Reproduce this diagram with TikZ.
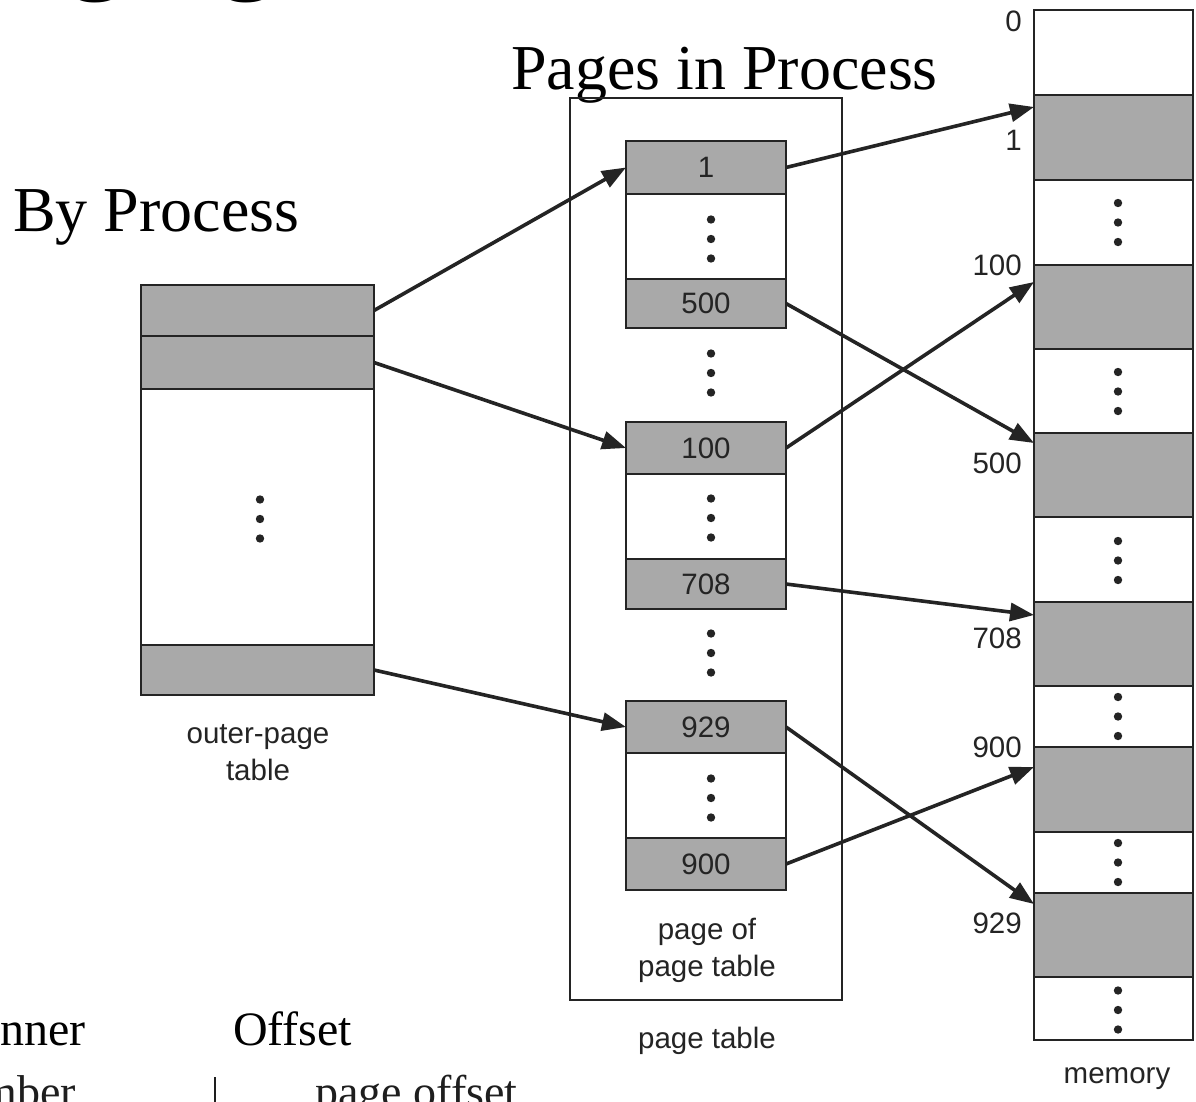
\documentclass[tikz,border=0pt]{standalone}
\usepackage{fontspec}
\setmainfont{Liberation Serif}
\newfontfamily\labelfont{Liberation Sans}
\usetikzlibrary{arrows.meta,calc}

\definecolor{ink}{HTML}{242424}
\definecolor{shade}{HTML}{A9A9A9}
\definecolor{prose}{HTML}{1E1E1E}

\tikzset{
  cell/.style={draw=ink, line width=1.7pt, inner sep=0pt, outer sep=0pt,
               font=\labelfont\fontsize{29.5}{34}\selectfont, text=ink},
  grey cell/.style={cell, fill=shade},
  blank cell/.style={cell, fill=white},
  frame/.style={draw=ink, line width=1.7pt, inner sep=0pt, outer sep=0pt},
  link/.style={draw=ink, line width=3.6pt, -{Triangle[length=24pt,width=18pt]}},
  tag/.style={inner sep=0pt, font=\labelfont\fontsize{29.5}{37}\selectfont, text=ink, align=center},
  addr/.style={tag, anchor=east},
  heading/.style={inner sep=0pt, anchor=base, font=\fontsize{64}{70}\selectfont, text=black},
  bodytext/.style={inner sep=0pt, anchor=base, font=\fontsize{46}{50}\selectfont, text=prose},
}

% three vertical dots centred on a point
\newcommand\vdotsat[1]{%
  \foreach \dy in {-19.5,0,19.5}
    \fill[ink] ($(#1)+(0,\dy)$) circle (4.2pt);}

\begin{document}
\begin{tikzpicture}[x=1pt,y=-1pt]
\useasboundingbox (0,0) rectangle (1196,1102);
\fill[white] (0,0) rectangle (1196,1102);
\clip (0,0) rectangle (1196,1102);

% ---- headings ----
\node[heading, anchor=base west, font=\fontsize{118}{120}\selectfont] (title) at (-51,-22) {Paging};
\node[heading] (pip) at (724.5,90) {Pages in Process};
\node[heading, anchor=base west] (bp) at (13,231) {By Process};
\node[heading, anchor=base east, font=\fontsize{48}{52}\selectfont] (inner) at (86,1045) {inner};
\node[heading, anchor=base west, font=\fontsize{48}{52}\selectfont] (offset) at (233,1045) {Offset};
\node[bodytext, anchor=base east] (number) at (76,1107) {number};
\node[bodytext, anchor=base west] (pageoffset) at (315,1107) {page offset};
\coordinate (rulebot) at (215,1110);
\draw[prose, line width=1.2pt] (215,1077) -- (rulebot);

% ---- outer-page table ----
\node[grey cell,  minimum width=233pt, minimum height=51pt]  (op1) at (257.5,310.5) {};
\node[grey cell,  minimum width=233pt, minimum height=53pt]  (op2) at (257.5,362.5) {};
\node[blank cell, minimum width=233pt, minimum height=256pt] (opd) at (257.5,517) {};
\node[grey cell,  minimum width=233pt, minimum height=50pt]  (op4) at (257.5,670) {};
\vdotsat{260,519}
\node[tag] (optag) at (258,753) {outer-page\\table};

% ---- page of page table ----
\node[frame, minimum width=272pt, minimum height=902pt] (ptab) at (706,549) {};
\node[grey cell,  minimum width=160pt, minimum height=53pt] (pt1)   at (706,167.5) {1};
\node[blank cell, minimum width=160pt, minimum height=85pt] (ptd1)  at (706,236.5) {};
\node[grey cell,  minimum width=160pt, minimum height=49pt] (pt500) at (706,303.5) {500};
\node[grey cell,  minimum width=160pt, minimum height=52pt] (pt100) at (706,448) {100};
\node[blank cell, minimum width=160pt, minimum height=85pt] (ptd2)  at (706,516.5) {};
\node[grey cell,  minimum width=160pt, minimum height=50pt] (pt708) at (706,584) {708};
\node[grey cell,  minimum width=160pt, minimum height=52pt] (pt929) at (706,727) {929};
\node[blank cell, minimum width=160pt, minimum height=85pt] (ptd3)  at (706,795.5) {};
\node[grey cell,  minimum width=160pt, minimum height=52pt] (pt900) at (706,864) {900};
\vdotsat{711,239}
\vdotsat{711,373}
\vdotsat{711,518}
\vdotsat{711,653}
\vdotsat{711,798}
\node[tag] (pptag) at (707,950) {page of\\page table};
\node[tag] (pttag) at (707,1041) {page table};

% ---- memory ----
\node[blank cell, minimum width=159pt, minimum height=85pt] (m0)   at (1113.5,52.5) {};
\node[grey cell,  minimum width=159pt, minimum height=85pt] (m1)   at (1113.5,137.5) {};
\node[blank cell, minimum width=159pt, minimum height=85pt] (md1)  at (1113.5,222.5) {};
\node[grey cell,  minimum width=159pt, minimum height=84pt] (m100) at (1113.5,307) {};
\node[blank cell, minimum width=159pt, minimum height=84pt] (md2)  at (1113.5,391) {};
\node[grey cell,  minimum width=159pt, minimum height=84pt] (m500) at (1113.5,475) {};
\node[blank cell, minimum width=159pt, minimum height=85pt] (md3)  at (1113.5,559.5) {};
\node[grey cell,  minimum width=159pt, minimum height=84pt] (m708) at (1113.5,644) {};
\node[blank cell, minimum width=159pt, minimum height=61pt] (md4)  at (1113.5,716.5) {};
\node[grey cell,  minimum width=159pt, minimum height=85pt] (m900) at (1113.5,789.5) {};
\node[blank cell, minimum width=159pt, minimum height=61pt] (md5)  at (1113.5,862.5) {};
\node[grey cell,  minimum width=159pt, minimum height=84pt] (m929) at (1113.5,935) {};
\node[blank cell, minimum width=159pt, minimum height=63pt] (md6)  at (1113.5,1008.5) {};
\vdotsat{1118,222.5}
\vdotsat{1118,391.5}
\vdotsat{1118,560.5}
\vdotsat{1118,716.5}
\vdotsat{1118,862.5}
\vdotsat{1118,1010}
\node[tag] (memtag) at (1117,1079) {memory};

% frame addresses
\node[addr] (a0)   at (1022,21)  {0};
\node[addr] (a1)   at (1022,140) {1};
\node[addr] (a100) at (1022,265) {100};
\node[addr] (a500) at (1022,463) {500};
\node[addr] (a708) at (1022,638) {708};
\node[addr] (a900) at (1022,747) {900};
\node[addr] (a929) at (1022,923) {929};

% ---- outer table to pages of the page table ----
\draw[link] (op1.east) -- (pt1.west);
\draw[link] (op2.east) -- (pt100.west);
\draw[link] (op4.east) -- (pt929.west);

% ---- page table entries to frames ----
\draw[link] (pt1.east)   -- ([yshift=-12pt]m1.north west);
\draw[link] (pt500.east) -- ([yshift=-10pt]m500.north west);
\draw[link] (pt100.east) -- ([yshift=-17pt]m100.north west);
\draw[link] (pt708.east) -- ([yshift=-13pt]m708.north west);
\draw[link] (pt929.east) -- ([yshift=-11pt]m929.north west);
\draw[link] (pt900.east) -- ([yshift=-20pt]m900.north west);
\end{tikzpicture}
\end{document}
